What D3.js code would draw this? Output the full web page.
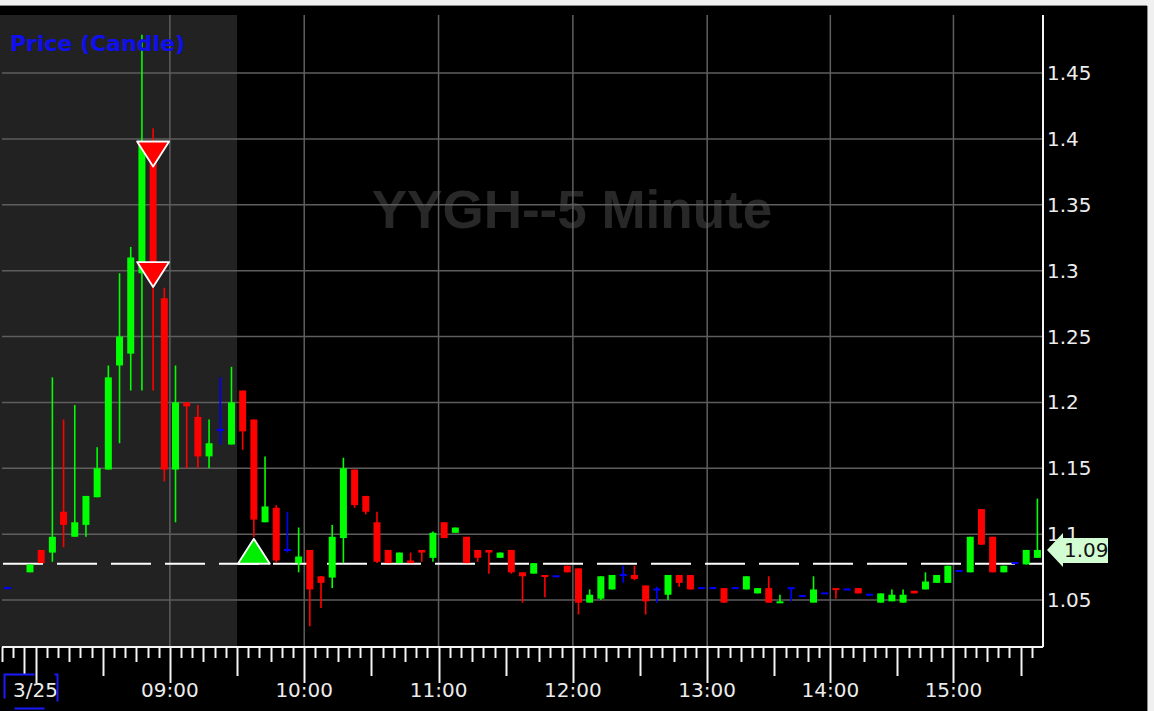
<!DOCTYPE html>
<html>
<head>
<meta charset="utf-8">
<script src="https://cdn.jsdelivr.net/npm/d3@7"></script>
<style>
  html, body { margin: 0; padding: 0; background: #f0f0f0; }
  svg { display: block; }
</style>
</head>
<body>
<svg id="chart" width="1154" height="711"></svg>
<script>
// 5 minute bars, 3/25 (07:50, 13:55, 14:55 had no bar)
const times = [
  "07:45", "07:50", "07:55",
  "08:00", "08:05", "08:10", "08:15", "08:20", "08:25", "08:30", "08:35", "08:40", "08:45", "08:50", "08:55",
  "09:00", "09:05", "09:10", "09:15", "09:20", "09:25", "09:30", "09:35", "09:40", "09:45", "09:50", "09:55",
  "10:00", "10:05", "10:10", "10:15", "10:20", "10:25", "10:30", "10:35", "10:40", "10:45", "10:50", "10:55",
  "11:00", "11:05", "11:10", "11:15", "11:20", "11:25", "11:30", "11:35", "11:40", "11:45", "11:50", "11:55",
  "12:00", "12:05", "12:10", "12:15", "12:20", "12:25", "12:30", "12:35", "12:40", "12:45", "12:50", "12:55",
  "13:00", "13:05", "13:10", "13:15", "13:20", "13:25", "13:30", "13:35", "13:40", "13:45", "13:50",
  "14:00", "14:05", "14:10", "14:15", "14:20", "14:25", "14:30", "14:35", "14:40", "14:45", "14:50",
  "15:00", "15:05", "15:10", "15:15", "15:20", "15:25", "15:30", "15:35"
];

const opens = [
  1.059, null, 1.071,
  1.088, 1.086, 1.117, 1.098, 1.107, 1.128, 1.149, 1.228, 1.237, 1.298, 1.398, 1.279,
  1.149, 1.200, 1.189, 1.159, 1.179, 1.168, 1.209, 1.187, 1.109, 1.120, 1.088, 1.078,
  1.088, 1.068, 1.067, 1.097, 1.149, 1.129, 1.109, 1.088, 1.078, 1.080, 1.088, 1.082,
  1.109, 1.101, 1.098, 1.088, 1.088, 1.082, 1.088, 1.071, 1.070, 1.069, 1.068, 1.076,
  1.074, 1.048, 1.051, 1.058, 1.069, 1.069, 1.061, 1.058, 1.054, 1.069, 1.069, 1.059,
  1.059, 1.059, 1.059, 1.058, 1.055, 1.059, 1.048, 1.059, 1.053, 1.048, 1.055,
  1.059, 1.058, 1.059, 1.054, 1.048, 1.049, 1.048, 1.057, 1.058, 1.063, 1.063,
  1.072, 1.071, 1.119, 1.098, 1.071, 1.078, 1.077, 1.082
];

const highs = [
  1.059, null, 1.077,
  1.088, 1.219, 1.187, 1.198, 1.129, 1.166, 1.228, 1.298, 1.318, 1.479, 1.408, 1.287,
  1.228, 1.200, 1.198, 1.187, 1.219, 1.227, 1.209, 1.187, 1.159, 1.122, 1.117, 1.105,
  1.088, 1.068, 1.107, 1.158, 1.149, 1.129, 1.117, 1.088, 1.086, 1.086, 1.088, 1.102,
  1.109, 1.105, 1.098, 1.088, 1.088, 1.086, 1.088, 1.071, 1.078, 1.069, 1.068, 1.076,
  1.074, 1.058, 1.068, 1.069, 1.076, 1.076, 1.061, 1.060, 1.069, 1.069, 1.069, 1.059,
  1.059, 1.059, 1.059, 1.068, 1.059, 1.068, 1.054, 1.059, 1.053, 1.068, 1.055,
  1.059, 1.058, 1.059, 1.054, 1.055, 1.058, 1.058, 1.057, 1.071, 1.069, 1.076,
  1.072, 1.098, 1.119, 1.098, 1.076, 1.078, 1.088, 1.127
];

const lows = [
  1.059, null, 1.071,
  1.078, 1.079, 1.090, 1.098, 1.098, 1.128, 1.149, 1.169, 1.209, 1.209, 1.209, 1.140,
  1.109, 1.150, 1.150, 1.150, 1.168, 1.168, 1.164, 1.098, 1.109, 1.078, 1.086, 1.071,
  1.030, 1.044, 1.059, 1.078, 1.120, 1.115, 1.078, 1.078, 1.078, 1.078, 1.079, 1.079,
  1.097, 1.101, 1.078, 1.079, 1.070, 1.082, 1.070, 1.048, 1.070, 1.052, 1.068, 1.071,
  1.039, 1.048, 1.050, 1.058, 1.063, 1.065, 1.039, 1.048, 1.050, 1.060, 1.058, 1.059,
  1.059, 1.048, 1.059, 1.058, 1.055, 1.048, 1.048, 1.049, 1.053, 1.048, 1.055,
  1.051, 1.058, 1.055, 1.054, 1.048, 1.049, 1.048, 1.055, 1.058, 1.063, 1.063,
  1.072, 1.071, 1.092, 1.071, 1.071, 1.078, 1.077, 1.082
];

const closes = [
  1.059, null, 1.077,
  1.078, 1.098, 1.107, 1.109, 1.129, 1.150, 1.219, 1.250, 1.310, 1.398, 1.300, 1.149,
  1.200, 1.197, 1.159, 1.169, 1.179, 1.200, 1.178, 1.111, 1.121, 1.080, 1.088, 1.083,
  1.058, 1.063, 1.098, 1.150, 1.122, 1.117, 1.079, 1.078, 1.086, 1.078, 1.086, 1.101,
  1.097, 1.105, 1.078, 1.082, 1.086, 1.086, 1.071, 1.068, 1.078, 1.068, 1.068, 1.071,
  1.048, 1.054, 1.068, 1.069, 1.069, 1.066, 1.049, 1.058, 1.069, 1.063, 1.058, 1.059,
  1.059, 1.048, 1.059, 1.068, 1.059, 1.048, 1.049, 1.059, 1.053, 1.058, 1.055,
  1.058, 1.058, 1.055, 1.054, 1.055, 1.054, 1.054, 1.055, 1.064, 1.069, 1.076,
  1.072, 1.098, 1.092, 1.071, 1.076, 1.078, 1.088, 1.088
];

// signal arrows: sell = red down triangle, buy = green up triangle
const signalTimes = ["08:50", "08:50", "09:35"];
const signalPrices = [1.398, 1.3065, 1.0775];
const signalTypes = ["sell", "sell", "buy"];

const refPrice = 1.0775;          // dashed reference line
const priceTicks = [1.05, 1.1, 1.15, 1.2, 1.25, 1.3, 1.35, 1.4, 1.45];
const sessionOpen = "09:30";
const dateLabel = "3/25";
const dateTick = "07:55";
const title = "Price (Candle)";
const watermark = "YYGH--5 Minute";

// layout
const plotLeft = 2, plotRight = 1043, plotTop = 15, plotBottom = 647;

const svg = d3.select("#chart");

const x = d3.scaleBand().domain(times).range([plotLeft, plotRight]).padding(0);
const y = d3.scaleLinear().domain([1.05, 1.45]).range([600, 73]);
const bw = x.bandwidth();
const cx = t => x(t) + bw / 2;

const bars = times.map((t, i) => ({ t, o: opens[i], h: highs[i], l: lows[i], c: closes[i] }))
                  .filter(d => d.o != null);

// frame
svg.append("rect").attr("x", 0).attr("y", 6).attr("width", 1147).attr("height", 705).attr("fill", "#000");
svg.append("line").attr("x1", 0).attr("x2", 1147).attr("y1", 5.5).attr("y2", 5.5).attr("stroke", "#8a8a8a");
svg.append("line").attr("x1", 1147.5).attr("x2", 1147.5).attr("y1", 6).attr("y2", 711).attr("stroke", "#8a8a8a");

// pre-market shading
svg.append("rect")
    .attr("x", 0).attr("y", plotTop)
    .attr("width", x(sessionOpen)).attr("height", plotBottom - plotTop)
    .attr("fill", "#222222");

// watermark
svg.append("text")
    .attr("x", 572).attr("y", 228)
    .attr("text-anchor", "middle")
    .attr("font-family", "Liberation Sans, Arial, sans-serif")
    .attr("font-weight", "bold")
    .attr("font-size", 53)
    .attr("fill", "#282828")
    .text(watermark);

// grid
const grid = svg.append("g").attr("stroke", "#5e5e5e").attr("stroke-width", 1.5);
grid.selectAll(".hg").data(priceTicks).join("line")
    .attr("x1", plotLeft).attr("x2", plotRight)
    .attr("y1", d => y(d)).attr("y2", d => y(d));

const hourTimes = times.filter(t => t.endsWith(":00") && t >= "09:00");
grid.selectAll(".vg").data(hourTimes).join("line")
    .attr("x1", d => x(d)).attr("x2", d => x(d))
    .attr("y1", plotTop).attr("y2", plotBottom);

// reference line
svg.append("line")
    .attr("x1", plotLeft + 1).attr("x2", plotRight)
    .attr("y1", y(refPrice)).attr("y2", y(refPrice))
    .attr("stroke", "#fff").attr("stroke-width", 2.2)
    .attr("stroke-dasharray", "40,14");

// candles
const colorOf = d => d.c > d.o ? "#00ff00" : d.c < d.o ? "#ff0000" : "#0000ff";
const candles = svg.append("g");
candles.selectAll(".wick").data(bars.filter(d => d.h > d.l)).join("line")
    .attr("x1", d => cx(d.t)).attr("x2", d => cx(d.t))
    .attr("y1", d => y(d.h)).attr("y2", d => y(d.l))
    .attr("stroke", colorOf).attr("stroke-width", 1.6);
candles.selectAll(".body").data(bars).join("rect")
    .attr("x", d => cx(d.t) - 3.5)
    .attr("width", 7)
    .attr("y", d => Math.min(y(d.o), y(d.c)) - (d.o === d.c ? 1 : 0))
    .attr("height", d => Math.max(2, Math.abs(y(d.o) - y(d.c))))
    .attr("fill", colorOf);

// signals
const tri = 16, triH = 25;
svg.append("g").selectAll("path")
    .data(signalTimes.map((t, i) => ({ t, p: signalPrices[i], type: signalTypes[i] })))
    .join("path")
    .attr("d", d => {
        const px = cx(d.t), py = y(d.p);
        return d.type === "sell"
            ? `M${px - tri},${py}L${px + tri},${py}L${px},${py + triH}Z`
            : `M${px - tri},${py}L${px + tri},${py}L${px},${py - triH}Z`;
    })
    .attr("fill", d => d.type === "sell" ? "#ff0000" : "#00ee00")
    .attr("stroke", "#fff").attr("stroke-width", 1.8)
    .attr("stroke-linejoin", "round");

// axes lines
const axis = svg.append("g").attr("stroke", "#f4f4f4").attr("stroke-width", 2);
axis.append("line").attr("x1", plotRight).attr("x2", plotRight).attr("y1", plotTop).attr("y2", plotBottom);
axis.append("line").attr("x1", plotLeft).attr("x2", plotRight).attr("y1", plotBottom).attr("y2", plotBottom);

// time ticks, one per bar slot
function tickLen(t) {
    const m = +t.slice(3);
    if (t === dateTick) return 27;
    if (m === 0) return 36;
    if (m === 30) return 29;
    if (m === 15 || m === 45) return 15;
    return 11;
}
const tickG = svg.append("g").attr("stroke", "#f4f4f4").attr("stroke-width", 2);
tickG.selectAll("line").data(times).join("line")
    .attr("x1", d => Math.round(x(d)) + 0.5).attr("x2", d => Math.round(x(d)) + 0.5)
    .attr("y1", plotBottom).attr("y2", d => plotBottom + tickLen(d));

const labelFont = "DejaVu Sans, Verdana, sans-serif";
const hourLabels = times.filter(t => t.endsWith(":00"));
svg.append("g").selectAll("text").data(hourLabels).join("text")
    .attr("x", d => x(d))
    .attr("y", 697)
    .attr("text-anchor", "middle")
    .attr("font-family", labelFont).attr("font-size", 20)
    .attr("fill", "#ececec")
    .text(d => d < "09:00" ? dateLabel : d);

// focus box round the date label
svg.append("rect")
    .attr("x", 4.5).attr("y", 674.5).attr("width", 53).attr("height", 34)
    .attr("fill", "none").attr("stroke", "#1a1aff").attr("stroke-width", 2)
    .attr("stroke-dasharray", "30,20");

// price labels
svg.append("g").selectAll("text").data(priceTicks).join("text")
    .attr("x", plotRight + 4)
    .attr("y", d => y(d) + 7)
    .attr("font-family", labelFont).attr("font-size", 20)
    .attr("fill", "#ececec")
    .text(d => String(+d.toFixed(2)));

// last price tag
const last = bars[bars.length - 1];
const ly = y(last.c);
svg.append("path")
    .attr("d", `M${plotRight + 4},${ly}L${plotRight + 20},${ly - 17}L${plotRight + 20},${ly - 12}L${plotRight + 65},${ly - 12}` +
               `L${plotRight + 65},${ly + 13}L${plotRight + 20},${ly + 13}L${plotRight + 20},${ly + 17}Z`)
    .attr("fill", "#d2fcd2");
svg.append("text")
    .attr("x", plotRight + 21).attr("y", ly + 7.5)
    .attr("font-family", labelFont).attr("font-size", 20)
    .attr("fill", "#111")
    .text(d3.format(".2f")(last.c));

// title
svg.append("text")
    .attr("x", 10).attr("y", 51)
    .attr("font-family", "DejaVu Sans, Verdana, sans-serif")
    .attr("font-weight", "bold").attr("font-size", 22)
    .attr("fill", "#1010ee")
    .text(title);
</script>
</body>
</html>
